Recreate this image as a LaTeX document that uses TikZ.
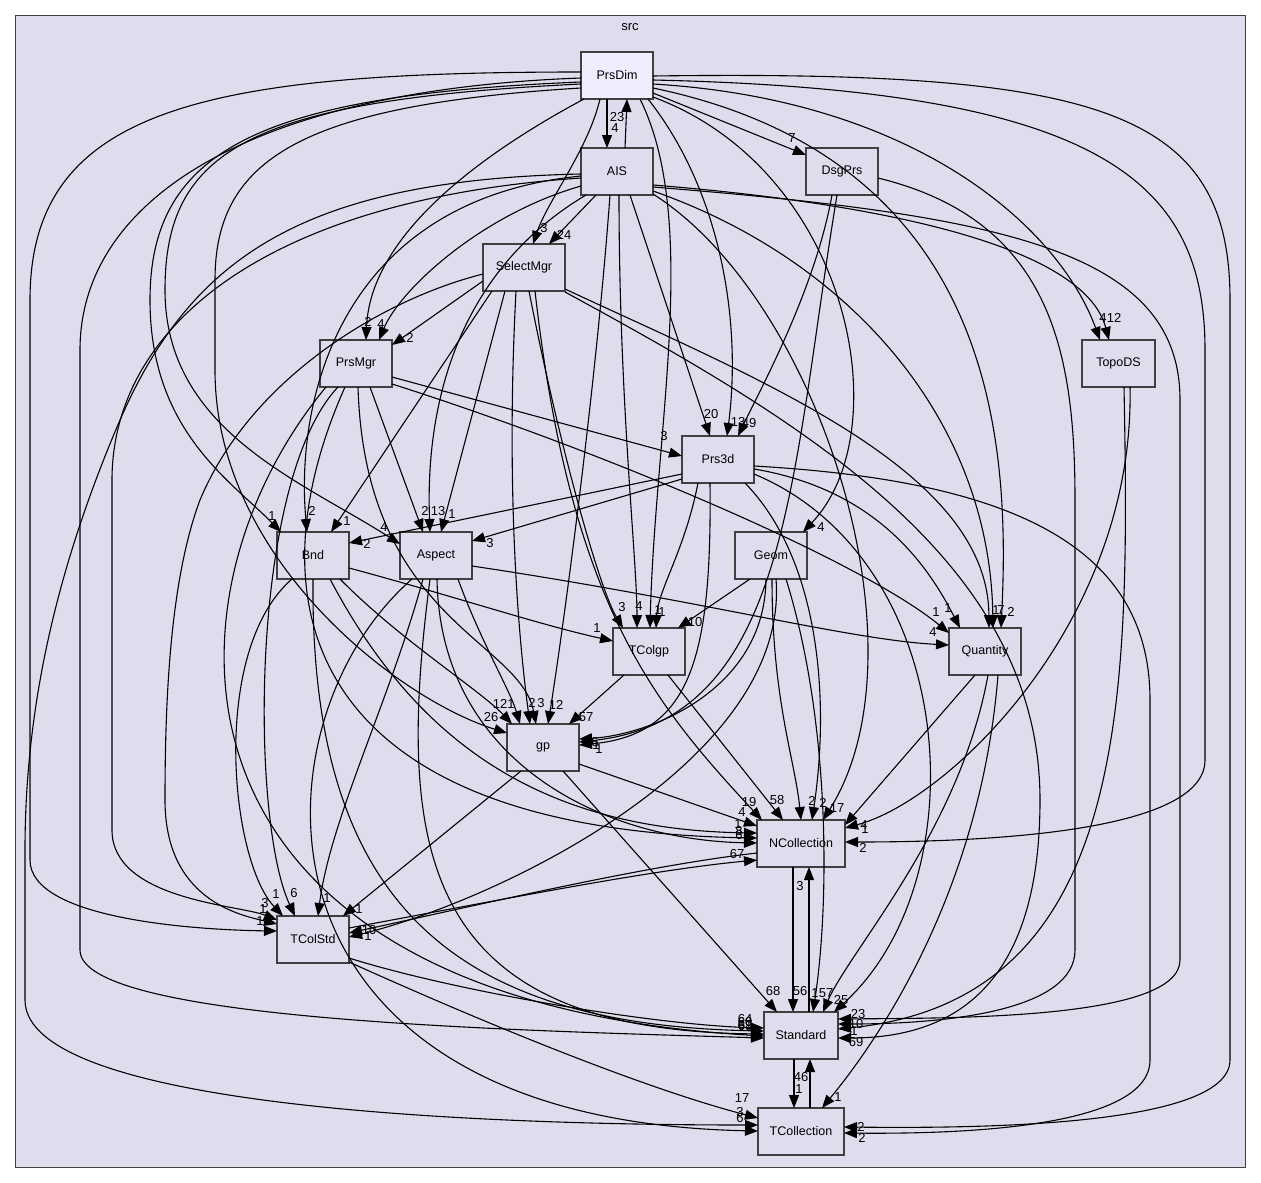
\documentclass[tikz,border=0pt]{standalone}
\usepackage{fontspec}
\setmainfont{Liberation Sans}
\usetikzlibrary{arrows.meta}
\definecolor{clusterfill}{HTML}{DDDDEE}
\definecolor{nodefill}{HTML}{DDDDEE}
\definecolor{mainfill}{HTML}{EEEEFF}
\definecolor{nodeborder}{HTML}{404040}
\tikzset{
  dirbox/.style={draw=nodeborder, line width=1.6pt, fill=nodefill, minimum width=72pt, minimum height=47pt, inner sep=0pt, outer sep=0pt, font=\fontsize{12.5}{15}\selectfont},
  dep/.style={line width=1.1pt, -{Triangle[length=13pt,width=10pt]}},
  lbl/.style={font=\fontsize{13}{15}\selectfont, inner sep=0pt}
}
\begin{document}
\begin{tikzpicture}[x=1pt,y=-1pt]
\useasboundingbox (0,0) rectangle (1261,1183);
\fill[white] (0,0) rectangle (1261,1183);
\draw[fill=clusterfill, draw=nodeborder, line width=1pt] (15,15) rectangle (1245,1167);
\node[lbl] (src) at (630,27) {src};
% nodes
\node[dirbox, fill=mainfill] (PrsDim) at (617,75.5) {PrsDim};
\node[dirbox] (AIS) at (617,171.5) {AIS};
\node[dirbox] (DsgPrs) at (842,171.5) {DsgPrs};
\node[dirbox, minimum width=82pt] (SelectMgr) at (524,267.5) {SelectMgr};
\node[dirbox, minimum width=73pt] (TopoDS) at (1118.5,363.5) {TopoDS};
\node[dirbox] (PrsMgr) at (356,363.5) {PrsMgr};
\node[dirbox] (Prs3d) at (718,459.5) {Prs3d};
\node[dirbox] (Bnd) at (313,555.5) {Bnd};
\node[dirbox] (Aspect) at (436,555.5) {Aspect};
\node[dirbox] (Geom) at (771,555.5) {Geom};
\node[dirbox] (TColgp) at (649,651.5) {TColgp};
\node[dirbox] (Quantity) at (985,651.5) {Quantity};
\node[dirbox] (gp) at (543,747.5) {gp};
\node[dirbox, minimum width=88pt] (NCollection) at (801,843.5) {NCollection};
\node[dirbox] (TColStd) at (313,939.5) {TColStd};
\node[dirbox, minimum width=74pt] (Standard) at (801,1035.5) {Standard};
\node[dirbox, minimum width=86pt] (TCollection) at (801,1131.5) {TCollection};
% edges: PrsDim / AIS / DsgPrs / SelectMgr / PrsMgr / Prs3d
\draw[dep] (PrsDim.south -| 607,0) -- (AIS.north -| 607,0);
\draw[dep] (AIS.north -| 625,0) -- (PrsDim.south -| 627,0);
\draw[dep] (PrsDim.east |- 0,93) -- (DsgPrs.west |- 0,155);
\draw[dep] (PrsDim.south -| 600,0) .. controls (588,150) and (548,200) .. (SelectMgr.north -| 533,0);
\draw[dep] (AIS.south -| 596,0) -- (SelectMgr.north -| 549,0);
\draw[dep] (PrsDim.south -| 584,0) .. controls (470,160) and (370,240) .. (PrsMgr.north -| 366,0);
\draw[dep] (AIS.west |- 0,186) .. controls (480,215) and (400,290) .. (PrsMgr.north -| 379,0);
\draw[dep] (SelectMgr.west |- 0,281) -- (PrsMgr.east |- 0,345);
\draw[dep] (PrsMgr.east |- 0,377) -- (Prs3d.west |- 0,456);
\draw[dep] (AIS.south -| 630,0) -- (Prs3d.north -| 710,0);
\draw[dep] (PrsDim.south -| 648,0) .. controls (720,190) and (742,320) .. (Prs3d.north -| 727,0);
\draw[dep] (DsgPrs.south -| 832,0) .. controls (815,290) and (760,390) .. (Prs3d.north -| 738,0);
\draw[dep] (DsgPrs.south -| 837,0) .. controls (790,480) and (790,720) .. (gp.east |- 0,742);
\draw[dep] (PrsDim.east |- 0,84) .. controls (920,100) and (1060,230) .. (TopoDS.north -| 1100,0);
\draw[dep] (AIS.east |- 0,185) .. controls (900,205) and (1085,250) .. (TopoDS.north -| 1109,0);
\draw[dep] (PrsDim.east |- 0,97) .. controls (850,170) and (900,430) .. (Geom.north -| 803,0);
% Quantity
\draw[dep] (PrsDim.east |- 0,88) .. controls (1000,160) and (1010,450) .. (Quantity.north -| 1001,0);
\draw[dep] (AIS.east |- 0,191) .. controls (850,260) and (990,420) .. (Quantity.north -| 993,0);
\draw[dep] (SelectMgr.east |- 0,289) .. controls (760,380) and (988,470) .. (Quantity.north -| 989,0);
\draw[dep] (Prs3d.east |- 0,469) .. controls (880,490) and (930,570) .. (Quantity.north -| 960,0);
\draw[dep] (PrsMgr.east |- 0,384) .. controls (600,450) and (860,560) .. (Quantity.west |- 0,633);
\draw[dep] (Aspect.east |- 0,566) .. controls (700,600) and (850,640) .. (Quantity.west |- 0,645);
% Bnd
\draw[dep] (PrsDim.west |- 0,82) .. controls (260,95) and (150,150) .. (150,300) .. controls (150,430) and (230,480) .. (Bnd.north -| 281,0);
\draw[dep] (AIS.west |- 0,176) .. controls (340,200) and (295,400) .. (Bnd.north -| 307,0);
\draw[dep] (SelectMgr.south -| 492,0) -- (Bnd.north -| 331,0);
\draw[dep] (Prs3d.west |- 0,474) -- (Bnd.east |- 0,543);
% Aspect
\draw[dep] (PrsDim.west |- 0,84) .. controls (250,100) and (165,150) .. (165,290) .. controls (165,430) and (300,480) .. (Aspect.west |- 0,544);
\draw[dep] (PrsMgr.south -| 370,0) -- (Aspect.north -| 423,0);
\draw[dep] (AIS.south -| 586,0) .. controls (460,270) and (425,400) .. (Aspect.north -| 430,0);
\draw[dep] (SelectMgr.south -| 505,0) -- (Aspect.north -| 441,0);
\draw[dep] (Prs3d.west |- 0,479) -- (Aspect.east |- 0,541);
% TColgp
\draw[dep] (Bnd.east |- 0,568) .. controls (450,595) and (540,625) .. (TColgp.west |- 0,641);
\draw[dep] (SelectMgr.south -| 529,0) .. controls (560,450) and (600,590) .. (TColgp.north -| 623,0);
\draw[dep] (AIS.south -| 619,0) .. controls (619,400) and (637,560) .. (TColgp.north -| 637,0);
\draw[dep] (PrsDim.south -| 640,0) .. controls (700,220) and (655,430) .. (TColgp.north -| 650,0);
\draw[dep] (Prs3d.south -| 698,0) .. controls (685,550) and (658,590) .. (TColgp.north -| 656,0);
\draw[dep] (Geom.south -| 750,0) -- (TColgp.north -| 678,0);
% gp
\draw[dep] (PrsDim.west |- 0,88) .. controls (300,105) and (215,160) .. (215,280) -- (215,370) .. controls (215,560) and (400,700) .. (gp.west |- 0,733);
\draw[dep] (Bnd.south -| 340,0) .. controls (400,640) and (480,690) .. (gp.north -| 512,0);
\draw[dep] (Aspect.south -| 458,0) .. controls (480,640) and (510,690) .. (gp.north -| 520,0);
\draw[dep] (SelectMgr.south -| 516,0) .. controls (505,500) and (520,650) .. (gp.north -| 530,0);
\draw[dep] (PrsMgr.south -| 358,0) .. controls (365,620) and (520,640) .. (gp.north -| 536,0);
\draw[dep] (AIS.south -| 610,0) .. controls (595,400) and (560,650) .. (gp.north -| 548,0);
\draw[dep] (TColgp.south -| 624,0) -- (gp.north -| 569,0);
\draw[dep] (Geom.south -| 766,0) .. controls (765,690) and (650,735) .. (gp.east |- 0,739);
\draw[dep] (Prs3d.south -| 710,0) .. controls (712,660) and (690,735) .. (gp.east |- 0,745);
% NCollection
\draw[dep] (gp.east |- 0,764) -- (NCollection.west |- 0,826);
\draw[dep] (SelectMgr.south -| 535,0) .. controls (570,600) and (650,700) .. (NCollection.north -| 762,0);
\draw[dep] (Bnd.south -| 330,0) .. controls (420,750) and (550,830) .. (NCollection.west |- 0,833);
\draw[dep] (PrsMgr.south -| 345,0) .. controls (250,600) and (300,830) .. (NCollection.west |- 0,838);
\draw[dep] (Aspect.south -| 437,0) .. controls (440,760) and (600,840) .. (NCollection.west |- 0,843);
\draw[dep] (TColStd.east |- 0,928) .. controls (500,900) and (650,870) .. (NCollection.west |- 0,860);
\draw[dep] (NCollection.west |- 0,853) .. controls (650,865) and (500,900) .. (TColStd.east |- 0,933);
\draw[dep] (TColgp.south -| 668,0) -- (NCollection.north -| 783,0);
\draw[dep] (Geom.south -| 772,0) .. controls (772,700) and (795,760) .. (NCollection.north -| 801,0);
\draw[dep] (Prs3d.south -| 745,0) .. controls (820,560) and (830,700) .. (NCollection.north -| 812,0);
\draw[dep] (AIS.east |- 0,194) .. controls (820,300) and (930,650) .. (NCollection.north -| 823,0);
\draw[dep] (Quantity.south -| 975,0) -- (NCollection.east |- 0,825);
\draw[dep] (TopoDS.south -| 1130,0) .. controls (1135,620) and (950,800) .. (NCollection.east |- 0,828);
\draw[dep] (PrsDim.east |- 0,80) .. controls (1100,90) and (1205,180) .. (1205,350) -- (1205,760) .. controls (1205,830) and (1000,842) .. (NCollection.east |- 0,842);
% TColStd
\draw[dep] (PrsDim.west |- 0,72) .. controls (200,72) and (30,110) .. (30,300) -- (30,860) .. controls (30,920) and (200,930) .. (TColStd.west |- 0,931);
\draw[dep] (AIS.west |- 0,178) .. controls (260,200) and (112,330) .. (112,480) -- (112,830) .. controls (112,900) and (240,905) .. (TColStd.west |- 0,920);
\draw[dep] (SelectMgr.west |- 0,274) .. controls (380,300) and (250,380) .. (200,500) .. controls (170,580) and (165,700) .. (165,800) .. controls (165,900) and (240,915) .. (TColStd.west |- 0,924);
\draw[dep] (Bnd.south -| 292,0) .. controls (210,650) and (230,860) .. (TColStd.north -| 283,0);
\draw[dep] (PrsMgr.south -| 338,0) .. controls (250,480) and (250,820) .. (TColStd.north -| 295,0);
\draw[dep] (Aspect.south -| 423,0) .. controls (390,700) and (330,820) .. (TColStd.north -| 318,0);
\draw[dep] (gp.south -| 521,0) -- (TColStd.north -| 343,0);
\draw[dep] (Geom.south -| 776,0) .. controls (790,760) and (500,900) .. (TColStd.east |- 0,937);
% Standard
\draw[dep] (gp.south -| 563,0) -- (Standard.north -| 777,0);
\draw[dep] (NCollection.south -| 793,0) -- (Standard.north -| 793,0);
\draw[dep] (Standard.north -| 809,0) -- (NCollection.south -| 809,0);
\draw[dep] (Geom.south -| 786,0) .. controls (830,720) and (830,900) .. (Standard.north -| 813,0);
\draw[dep] (Quantity.south -| 988,0) .. controls (960,830) and (850,950) .. (Standard.north -| 823,0);
\draw[dep] (Prs3d.east |- 0,474) .. controls (960,560) and (980,880) .. (Standard.north -| 834,0);
\draw[dep] (AIS.east |- 0,187) .. controls (1000,215) and (1180,250) .. (1180,400) -- (1180,960) .. controls (1180,1020) and (950,1018) .. (Standard.east |- 0,1019);
\draw[dep] (DsgPrs.east |- 0,178) .. controls (1050,220) and (1075,350) .. (1075,500) -- (1075,950) .. controls (1075,1010) and (950,1024) .. (Standard.east |- 0,1024);
\draw[dep] (TopoDS.south -| 1124,0) .. controls (1130,700) and (1130,1000) .. (Standard.east |- 0,1029);
\draw[dep] (SelectMgr.east |- 0,292) .. controls (800,420) and (1040,560) .. (1040,800) .. controls (1040,990) and (950,1038) .. (Standard.east |- 0,1038);
\draw[dep] (TColStd.east |- 0,958) .. controls (450,990) and (650,1025) .. (Standard.west |- 0,1028);
\draw[dep] (Bnd.south -| 313,0) .. controls (310,900) and (450,1025) .. (Standard.west |- 0,1031);
\draw[dep] (Aspect.south -| 430,0) .. controls (395,850) and (420,1030) .. (Standard.west |- 0,1034);
\draw[dep] (PrsMgr.south -| 326,0) .. controls (150,600) and (150,1000) .. (Standard.west |- 0,1036);
\draw[dep] (PrsDim.west |- 0,78) .. controls (250,90) and (80,200) .. (80,350) -- (80,950) .. controls (80,1020) and (500,1030) .. (Standard.west |- 0,1038);
% TCollection
\draw[dep] (TColStd.east |- 0,962) .. controls (500,1030) and (650,1090) .. (TCollection.west |- 0,1118);
\draw[dep] (AIS.west |- 0,174) .. controls (300,180) and (190,260) .. (120,420) .. controls (60,560) and (25,700) .. (25,850) -- (25,1000) .. controls (25,1110) and (500,1125) .. (TCollection.west |- 0,1125);
\draw[dep] (Aspect.south -| 412,0) .. controls (250,720) and (230,1120) .. (TCollection.west |- 0,1131);
\draw[dep] (Standard.south -| 794,0) -- (TCollection.north -| 794,0);
\draw[dep] (TCollection.north -| 810,0) -- (Standard.south -| 810,0);
\draw[dep] (Quantity.south -| 998,0) .. controls (980,900) and (870,1050) .. (TCollection.north -| 822,0);
\draw[dep] (PrsDim.east |- 0,76) .. controls (1100,70) and (1230,110) .. (1230,300) -- (1230,1060) .. controls (1230,1130) and (950,1128) .. (TCollection.east |- 0,1127);
\draw[dep] (Prs3d.east |- 0,466) .. controls (1000,480) and (1150,540) .. (1150,700) -- (1150,1060) .. controls (1150,1130) and (950,1134) .. (TCollection.east |- 0,1133);
% labels
\node[lbl] (l1) at (615,128) {4};
\node[lbl] (l2) at (617,117) {23};
\node[lbl] (l3) at (792,138) {7};
\node[lbl] (l4) at (544,228) {3};
\node[lbl] (l5) at (564,235) {24};
\node[lbl] (l6) at (368,322) {2};
\node[lbl] (l7) at (381,324) {4};
\node[lbl] (l8) at (410,338) {2};
\node[lbl] (l9) at (664,436) {3};
\node[lbl] (l10) at (711,414) {20};
\node[lbl] (l11) at (738,422) {13};
\node[lbl] (l12) at (749,423) {49};
\node[lbl] (l13) at (1103,318) {4};
\node[lbl] (l14) at (1114,318) {12};
\node[lbl] (l15) at (821,527) {4};
\node[lbl] (l16) at (1011,612) {2};
\node[lbl] (l17) at (1001,610) {7};
\node[lbl] (l18) at (996,610) {1};
\node[lbl] (l19) at (948,608) {1};
\node[lbl] (l20) at (936,612) {1};
\node[lbl] (l21) at (933,632) {4};
\node[lbl] (l22) at (272,516) {1};
\node[lbl] (l23) at (312,511) {2};
\node[lbl] (l24) at (347,521) {1};
\node[lbl] (l25) at (367,544) {2};
\node[lbl] (l26) at (384,527) {4};
\node[lbl] (l27) at (425,511) {2};
\node[lbl] (l28) at (438,511) {13};
\node[lbl] (l29) at (452,514) {1};
\node[lbl] (l30) at (490,543) {3};
\node[lbl] (l31) at (597,628) {1};
\node[lbl] (l32) at (622,607) {3};
\node[lbl] (l33) at (639,606) {4};
\node[lbl] (l34) at (658,610) {1};
\node[lbl] (l35) at (662,612) {1};
\node[lbl] (l36) at (695,622) {10};
\node[lbl] (l37) at (491,717) {26};
\node[lbl] (l38) at (500,704) {12};
\node[lbl] (l39) at (511,704) {1};
\node[lbl] (l40) at (532,703) {2};
\node[lbl] (l41) at (541,703) {3};
\node[lbl] (l42) at (556,705) {12};
\node[lbl] (l43) at (586,717) {57};
\node[lbl] (l44) at (595,742) {6};
\node[lbl] (l45) at (596,745) {1};
\node[lbl] (l46) at (599,749) {1};
\node[lbl] (l47) at (749,802) {19};
\node[lbl] (l48) at (742,812) {4};
\node[lbl] (l49) at (738,824) {1};
\node[lbl] (l50) at (739,831) {8};
\node[lbl] (l51) at (739,835) {6};
\node[lbl] (l52) at (737,854) {67};
\node[lbl] (l53) at (777,800) {58};
\node[lbl] (l54) at (812,801) {2};
\node[lbl] (l55) at (823,803) {2};
\node[lbl] (l56) at (837,808) {17};
\node[lbl] (l57) at (864,825) {4};
\node[lbl] (l58) at (865,829) {1};
\node[lbl] (l59) at (863,848) {2};
\node[lbl] (l60) at (265,903) {3};
\node[lbl] (l61) at (263,909) {1};
\node[lbl] (l62) at (276,894) {1};
\node[lbl] (l63) at (294,893) {6};
\node[lbl] (l64) at (327,898) {1};
\node[lbl] (l65) at (359,909) {1};
\node[lbl] (l66) at (260,921) {1};
\node[lbl] (l67) at (369,930) {10};
\node[lbl] (l68) at (368,936) {1};
\node[lbl] (l69) at (773,991) {68};
\node[lbl] (l70) at (800,991) {56};
\node[lbl] (l71) at (800,886) {3};
\node[lbl] (l72) at (815,993) {1};
\node[lbl] (l73) at (826,993) {57};
\node[lbl] (l74) at (841,1000) {25};
\node[lbl] (l75) at (858,1014) {23};
\node[lbl] (l76) at (856,1024) {10};
\node[lbl] (l77) at (854,1031) {1};
\node[lbl] (l78) at (856,1042) {69};
\node[lbl] (l79) at (745,1019) {64};
\node[lbl] (l80) at (745,1022) {60};
\node[lbl] (l81) at (745,1025) {61};
\node[lbl] (l82) at (745,1026) {68};
\node[lbl] (l83) at (742,1098) {17};
\node[lbl] (l84) at (740,1112) {3};
\node[lbl] (l85) at (740,1118) {6};
\node[lbl] (l86) at (801,1077) {46};
\node[lbl] (l87) at (799,1089) {1};
\node[lbl] (l88) at (838,1097) {1};
\node[lbl] (l89) at (861,1127) {2};
\node[lbl] (l90) at (862,1138) {2};
\end{tikzpicture}
\end{document}
